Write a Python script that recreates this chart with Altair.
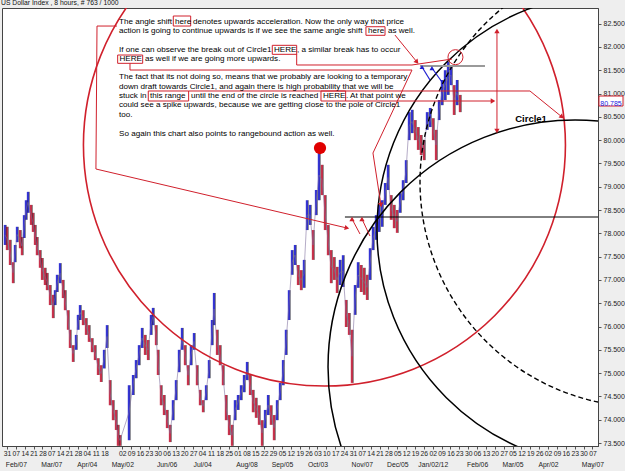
import altair as alt
import pandas as pd

# ---------------- price samples (x in weeks since 31 Jan 2011, prices) ----------------
week = [-0.23, 0.00, 0.34, 0.68, 0.90, 1.13, 1.47, 1.69, 1.92, 2.14, 2.37, 2.71, 2.93, 3.16, 3.38, 3.72,
        3.95, 4.28, 4.51, 4.85, 5.19, 5.41, 5.64, 5.98, 6.31, 6.54, 6.88, 7.10, 7.44, 7.78, 8.00, 8.23,
        8.57, 8.91, 9.24, 9.58, 9.92, 10.26, 10.60, 10.94, 11.27, 11.61, 11.95, 12.29, 12.51, 12.74,
        13.75, 14.21, 14.54, 14.88, 15.22, 15.56, 15.90, 16.23, 16.46, 16.80, 17.02, 17.36, 17.70,
        18.04, 18.38, 18.71, 19.05, 19.39, 19.73, 20.07, 20.41, 20.74, 21.08, 21.42, 21.76, 22.10,
        22.44, 22.77, 23.11, 23.34, 23.68, 24.01, 24.35, 24.69, 25.03, 25.37, 25.70, 26.04, 26.38,
        26.72, 27.06, 27.40, 27.73, 28.07, 28.41, 28.75, 29.09, 29.43, 29.76, 30.10, 30.44, 30.78,
        31.12, 31.45, 31.79, 32.13, 32.47, 32.81, 33.15, 33.48, 33.82, 34.16, 34.50, 34.84, 35.17,
        35.51, 35.85, 36.19, 36.53, 36.87, 37.20, 37.54, 37.88, 38.22, 38.56, 38.89, 39.23, 39.57,
        39.91, 40.25, 40.59, 40.92, 41.26, 41.60, 41.94, 42.28, 42.62, 42.95, 43.29, 43.63, 43.97,
        44.31, 44.64, 44.98, 45.32, 45.66, 46.00, 46.34, 46.67, 47.01, 47.35, 47.69, 48.03, 48.37,
        48.70, 49.04, 49.38, 49.72, 50.06, 50.39, 50.73, 51.07]
high = [78.18, 78.14, 77.86, 77.38, 77.75, 78.14, 78.07, 77.92, 78.39, 78.71, 78.89, 78.61, 78.44, 78.18,
        77.92, 77.64, 77.47, 77.26, 77.15, 76.89, 76.68, 76.78, 77.11, 77.36, 77.00, 76.78, 76.35, 75.93,
        75.60, 75.82, 76.25, 76.46, 76.35, 76.18, 76.03, 75.75, 75.60, 75.32, 75.17, 75.50, 76.03, 74.85,
        74.42, 74.21, 73.89, 73.67, 74.74, 74.96, 75.28, 75.60, 75.97, 75.82, 75.71, 76.25, 76.40, 76.03,
        75.50, 74.74, 74.53, 74.21, 73.89, 74.42, 74.85, 75.50, 75.97, 75.60, 75.17, 75.60, 75.86, 75.17,
        74.64, 74.42, 74.74, 75.28, 76.14, 76.72, 75.93, 75.60, 75.17, 74.53, 74.10, 73.89, 74.42, 74.53,
        74.74, 74.96, 75.24, 74.96, 74.64, 74.47, 74.31, 73.99, 74.21, 74.53, 74.31, 74.10, 74.42, 74.79,
        75.28, 75.93, 76.78, 77.64, 77.75, 77.32, 77.21, 77.43, 78.71, 78.61, 78.07, 78.93, 79.79, 79.47,
        78.82, 78.18, 77.64, 77.49, 77.28, 77.43, 77.53, 76.57, 76.29, 75.93, 76.89, 77.38, 77.32, 77.26,
        77.11, 77.68, 78.14, 78.39, 78.61, 78.71, 79.08, 79.47, 78.82, 78.61, 78.50, 78.86, 79.14, 79.57,
        80.60, 80.65, 80.43, 80.28, 80.11, 80.00, 80.60, 80.69, 80.47, 80.22, 80.86, 81.29, 81.50, 81.68,
        81.61, 81.18, 81.29, 80.97]
low = [77.75, 77.64, 77.32, 76.93, 77.38, 77.81, 77.68, 77.53, 77.90, 78.29, 78.44, 78.18, 78.03, 77.75,
       77.53, 77.26, 77.00, 76.89, 76.78, 76.46, 76.18, 76.46, 76.74, 76.93, 76.61, 76.35, 75.93, 75.54,
       75.24, 75.50, 75.93, 76.14, 76.03, 75.82, 75.67, 75.45, 75.28, 74.96, 74.81, 75.10, 75.54, 74.31,
       73.99, 73.78, 73.44, 73.44, 73.56, 74.53, 74.89, 75.17, 75.54, 75.39, 75.28, 75.82, 76.03, 75.60,
       74.96, 74.31, 74.10, 73.82, 73.52, 73.99, 74.42, 75.02, 75.50, 75.17, 74.74, 75.17, 75.50, 74.74,
       74.31, 74.16, 74.42, 74.89, 75.60, 76.03, 75.39, 75.17, 74.74, 73.99, 73.67, 73.44, 73.99, 74.21,
       74.42, 74.59, 74.85, 74.53, 74.16, 74.04, 73.89, 73.44, 73.82, 74.10, 73.89, 73.56, 73.99, 74.42,
       74.74, 75.39, 76.14, 77.11, 77.32, 76.89, 76.78, 76.83, 78.07, 78.18, 77.43, 78.39, 78.71, 78.82,
       78.07, 77.53, 76.93, 77.00, 76.72, 76.89, 76.85, 75.99, 75.82, 74.79, 76.25, 76.83, 76.74, 76.68,
       76.57, 77.00, 77.64, 77.86, 78.03, 78.14, 78.61, 78.93, 78.29, 78.11, 78.01, 78.44, 78.71, 79.08,
       80.00, 80.15, 80.00, 79.79, 79.68, 79.57, 80.22, 80.28, 80.00, 79.57, 80.43, 80.75, 80.86, 80.97,
       81.18, 80.54, 80.75, 80.60]

# ---------------- axis labels ----------------
day_labels = ["31", "07", "14", "21", "28", "07", "14", "21", "28", "04", "11", "18", "", "02", "09", "16",
              "23", "30", "06", "13", "20", "27", "04", "11", "18", "25", "01", "08", "15", "22", "29", "05",
              "12", "19", "26", "03", "10", "17", "24", "31", "07", "14", "21", "28", "05", "12", "19", "26",
              "02", "09", "16", "23", "30", "06", "13", "20", "27", "05", "12", "19", "26", "02", "09", "16",
              "23", "30", "07"]
month_labels = {1: "Feb/07", 5: "Mar/07", 9: "Apr/04", 13: "May/02", 18: "Jun/06", 22: "Jul/04",
                27: "Aug/08", 31: "Sep/05", 35: "Oct/03", 40: "Nov/07", 44: "Dec/05", 48: "Jan/02/12",
                53: "Feb/06", 57: "Mar/05", 61: "Apr/02", 66: "May/07"}
price_ticks = [73.5, 74.0, 74.5, 75.0, 75.5, 76.0, 76.5, 77.0, 77.5, 78.0, 78.5, 79.0, 79.5, 80.0,
               80.5, 81.0, 81.5, 82.0, 82.5]
last_price = 80.785

# ---------------- annotation geometry (weeks, price) ----------------
circles = {  # name: (week, price)
    "red": (35.79, 79.894),
    "circle1": (64.04, 75.13),
    "arc2": (68.43, 78.07),
    "dashed": (71.93, 79.10),
}
pole_dot = (35.29, 79.83)
small_circle = (50.56, 81.78)

red_paths = {
    "p1": [(12.40, 82.448), (10.15, 82.448), (10.03, 79.380), (38.33, 78.114)],
    "p2": [(43.74, 82.255), (46.22, 81.676)],
    "p3": [(32.66, 81.848), (32.66, 81.612), (45.66, 81.612), (50.17, 81.740)],
    "p4": [(13.87, 81.648), (13.87, 81.504), (45.66, 81.504), (41.26, 79.723), (42.16, 78.607)],
    "p5": [(20.48, 81.054), (58.96, 81.054), (62.57, 80.496)],
    "p6": [(38.18, 80.839), (54.79, 80.839)],
    "range": [(55.24, 82.341), (55.24, 80.195)],
    "r1": [(38.90, 78.307), (39.80, 77.985)],
    "r2": [(40.02, 78.307), (40.92, 77.942)],
}
blue_paths = {
    "b1": [(46.79, 81.569), (47.69, 81.290)],
    "b2": [(47.91, 81.547), (49.04, 81.247)],
}
red_heads = [(38.33, 78.114, 13), (46.22, 81.676, 51), (42.16, 78.607, 81), (62.57, 80.496, 39),
             (54.79, 80.839, 0), (55.24, 82.341, 270), (55.24, 80.195, 90), (38.90, 78.307, 270),
             (40.02, 78.307, 270)]
blue_heads = [(46.79, 81.569, 270), (47.91, 81.547, 270)]
black_level = [(38.10, 78.35), (66.63, 78.35)]
gray_level = [(46.56, 81.59), (53.89, 81.59)]

text_items = [
    (12.63, 82.541, "The angle shift"), (18.94, 82.541, "here"),
    (20.97, 82.541, "denotes upwards acceleration.   Now the only way that price"),
    (12.63, 82.341, "action is going to continue upwards is if we see the same angle shift"),
    (40.70, 82.341, "here"), (42.95, 82.341, "as well."),
    (12.63, 81.933, "If one can observe the break out of Circle1"), (30.10, 81.933, "HERE"),
    (32.69, 81.933, ", a similar break has to occur"),
    (12.68, 81.730, "HERE"), (15.56, 81.730, "as well if we are going more upwards."),
    (12.63, 81.354, "The fact that its not doing so, means that we probably are looking to a temporary"),
    (12.63, 81.140, "down draft towards Circle1, and again there is high probability that we will be"),
    (12.63, 80.946, "stuck in"), (16.12, 80.946, "this range"),
    (20.74, 80.946, "until the end of the circle is reached"), (35.63, 80.946, "HERE"),
    (38.22, 80.946, ".  At that point we"),
    (12.63, 80.753, "could see a spike upwards, because we are getting close to the pole of Circle1"),
    (12.63, 80.539, "too."),
    (12.63, 80.131, "So again this chart also points to rangebound action as well."),
]
word_boxes = [(18.75, 20.71, 82.663, 82.448), (40.47, 42.62, 82.433, 82.249),
              (29.91, 32.66, 82.034, 81.841), (12.48, 15.30, 81.826, 81.648),
              (15.93, 20.48, 81.054, 80.839), (35.40, 38.18, 81.054, 80.839)]
circle1_label = (59.08, 80.453, "Circle1")
price_box = (66.74, 69.45, 80.732, 80.946)

# ---------------- build chart ----------------
FONT = "Liberation Sans"
xs = alt.Scale(domain=[-0.56, 66.63], nice=False, zero=False)
ys = alt.Scale(domain=[73.436, 82.835], nice=False, zero=False)

df = pd.DataFrame({"week": week, "high": high, "low": low})
df["mid"] = (df["high"] + df["low"]) / 2
df["dir"] = ["up" if i == 0 or df["mid"][i] >= df["mid"][i - 1] else "down" for i in range(len(df))]

tick_vals = [k for k in range(len(day_labels)) if day_labels[k] != ""]
day_js = "[" + ",".join("'%s'" % d for d in day_labels) + "]"
mon_js = "[" + ",".join("'%s'" % month_labels.get(k, "") for k in range(len(day_labels))) + "]"
label_expr = (f"{mon_js}[datum.value] != '' ? [{day_js}[datum.value], {mon_js}[datum.value]]"
              f" : {day_js}[datum.value]")

XAXIS = alt.Axis(values=tick_vals, labelExpr=label_expr, title=None, grid=False, orient="bottom",
                 labelFont=FONT, labelFontSize=6.8, labelColor="#222", labelOverlap=False,
                 labelFlush=False, labelBound=False, labelLineHeight=11, labelPadding=1, tickSize=3,
                 tickColor="#555", domainColor="#444")
YAXIS = alt.Axis(values=price_ticks, format=".3f", orient="right", title=None, grid=False,
                 labelFont=FONT, labelFontSize=7, labelColor="#222", labelPadding=2, tickSize=3,
                 tickColor="#555", domainColor="#444", labelOverlap=False, labelFlush=False,
                 labelBound=False)


def xq(f="week"):
    return alt.X(f + ":Q", scale=xs, axis=XAXIS)


def yq(f="price"):
    return alt.Y(f + ":Q", scale=ys, axis=YAXIS)


bars = alt.Chart(df).mark_rule(strokeWidth=2.3).encode(
    x=xq(), y=yq("low"), y2="high:Q",
    color=alt.Color("dir:N", scale=alt.Scale(domain=["up", "down"], range=["#3434d4", "#c8324c"]),
                    legend=None),
)
wicks = alt.Chart(df).mark_rule(strokeWidth=0.7, color="#222222", opacity=0.75, xOffset=1.4).encode(
    x=xq(), y=yq("low"), y2="high:Q")
midline = alt.Chart(df).mark_line(color="#7a6a9a", strokeWidth=0.7, opacity=0.8).encode(
    x=xq(), y=yq("mid"))


def circle_layer(name, size, color, dash=None, width=1.5):
    w, p = circles[name]
    kw = dict(shape="circle", filled=False, clip=True, size=size, stroke=color, strokeWidth=width, opacity=1)
    if dash:
        kw["strokeDash"] = dash
    return alt.Chart(pd.DataFrame({"week": [w], "price": [p]})).mark_point(**kw).encode(x=xq(), y=yq())


red_circle = circle_layer("red", 232324, "#d0202c", width=1.6)
c1 = circle_layer("circle1", 244036, "#000000", width=1.5)
c2 = circle_layer("arc2", 224676, "#000000", width=1.5)
c3 = circle_layer("dashed", 202500, "#000000", dash=[5, 3], width=1.4)

dot = alt.Chart(pd.DataFrame({"week": [pole_dot[0]], "price": [pole_dot[1]]})).mark_point(
    shape="circle", filled=True, color="#e00000", size=150, opacity=1).encode(x=xq(), y=yq())
small = alt.Chart(pd.DataFrame({"week": [small_circle[0]], "price": [small_circle[1]]})).mark_point(
    shape="circle", filled=False, color="#d0202c", size=225, strokeWidth=1, opacity=1).encode(x=xq(), y=yq())


def paths_df(paths):
    rows = []
    for pid, pts in paths.items():
        for i, (w, p) in enumerate(pts):
            rows.append({"pid": pid, "ord": i, "week": w, "price": p})
    return pd.DataFrame(rows)


red_lines = alt.Chart(paths_df(red_paths)).mark_line(color="#d0202c", strokeWidth=1).encode(
    x=xq(), y=yq(), detail="pid:N", order="ord:Q")
blue_lines = alt.Chart(paths_df(blue_paths)).mark_line(color="#2020d0", strokeWidth=1.2).encode(
    x=xq(), y=yq(), detail="pid:N", order="ord:Q")
black_line = alt.Chart(paths_df({"k": black_level})).mark_line(color="#000000", strokeWidth=1).encode(
    x=xq(), y=yq(), order="ord:Q")
gray_line = alt.Chart(paths_df({"g": gray_level})).mark_line(color="#9a9a9a", strokeWidth=2).encode(
    x=xq(), y=yq(), order="ord:Q")

rh = pd.DataFrame(red_heads, columns=["week", "price", "ang"])
red_arrows = alt.Chart(rh).mark_point(shape="triangle-right", filled=True, color="#d0202c", size=28,
                                       opacity=1).encode(x=xq(), y=yq(), angle=alt.Angle("ang:Q", scale=None))
bh = pd.DataFrame(blue_heads, columns=["week", "price", "ang"])
blue_arrows = alt.Chart(bh).mark_point(shape="triangle-right", filled=True, color="#2020d0", size=24,
                                        opacity=1).encode(x=xq(), y=yq(), angle=alt.Angle("ang:Q", scale=None))

tdf = pd.DataFrame(text_items, columns=["week", "price", "txt"])
texts = alt.Chart(tdf).mark_text(align="left", baseline="middle", font=FONT, fontSize=8.1,
                                 color="#000000").encode(x=xq(), y=yq(), text="txt:N")

bdf = pd.DataFrame(word_boxes, columns=["x1", "x2", "y1", "y2"])
boxes = alt.Chart(bdf).mark_rect(fill=None, stroke="#d0202c", strokeWidth=1, fillOpacity=0).encode(
    x=xq("x1"), x2="x2:Q", y=yq("y1"), y2="y2:Q")

lab = alt.Chart(pd.DataFrame({"week": [circle1_label[0]], "price": [circle1_label[1]],
                              "txt": [circle1_label[2]]})).mark_text(
    font=FONT, fontSize=9.5, fontWeight="bold", color="#000000", baseline="middle").encode(
    x=xq(), y=yq(), text="txt:N")

pb = pd.DataFrame({"x1": [price_box[0]], "x2": [price_box[1]], "y1": [price_box[2]], "y2": [price_box[3]],
                   "mid": [(price_box[0] + price_box[1]) / 2], "p": [last_price],
                   "txt": [f"{last_price:.3f}"]})
pbox = alt.Chart(pb).mark_rect(fill="#ffffff", stroke="#d0202c", strokeWidth=1).encode(
    x=xq("x1"), x2="x2:Q", y=yq("y1"), y2="y2:Q")
ptxt = alt.Chart(pb).mark_text(font=FONT, fontSize=7, color="#2020e0", baseline="middle").encode(
    x=xq("mid"), y=yq("p"), text="txt:N")

chart = alt.layer(
    bars, wicks, midline, red_circle, c1, c2, c3, black_line, gray_line, red_lines, blue_lines, red_arrows,
    blue_arrows, dot, small, boxes, texts, lab, pbox, ptxt
).properties(
    width=596, height=438,
    title=alt.TitleParams("US Dollar Index , 8 hours, # 763 / 1000", anchor="start", font=FONT,
                          fontSize=6.8, fontWeight="normal", color="#111", offset=1, dx=-1),
    autosize=alt.AutoSizeParams(type="none"),
    padding={"left": 2, "top": 8, "right": 27, "bottom": 25},
    background="#eeeeee",
).configure_view(fill="#ffffff", stroke="#444444", strokeWidth=1)

chart.save("out.html", embed_options={"renderer": "svg", "actions": False})
